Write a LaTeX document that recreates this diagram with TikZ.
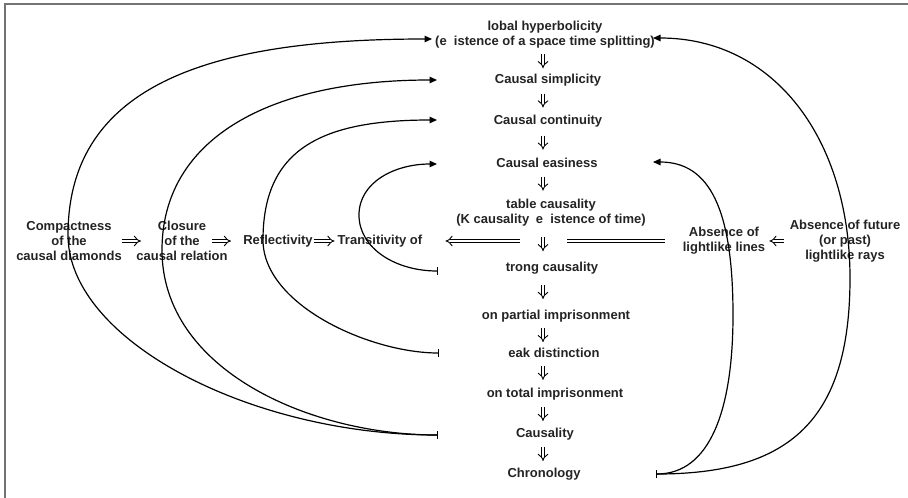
\documentclass[tikz,border=0pt]{standalone}
\usepackage{fontspec}
\setmainfont{Liberation Sans}
\usetikzlibrary{arrows.meta,calc}
\definecolor{ink}{RGB}{35,35,35}
\definecolor{framegray}{RGB}{115,115,115}

\begin{document}
\begin{tikzpicture}[x=1pt,y=-1pt,
  lbl/.style={font=\fontsize{13}{15}\selectfont\bfseries,text=ink,align=center,inner sep=1pt},
  imp/.style={double,double distance=2.8pt,line width=0.9pt,-{Implies}},
  dbl/.style={double,double distance=2.8pt,line width=0.9pt},
  curv/.style={line width=1.2pt,{Bar[width=8pt]}-{Triangle[length=7.5pt,width=6.5pt]}}]
  \useasboundingbox (0,0) rectangle (908,498);
  % frame (only left and top edges show)
  \draw[framegray,line width=1.5pt] (5,498) -- (5,4) -- (908,4);
  % ---- central ladder ----
  \node[lbl] (gh) at (545,35) {lobal hyperbolicity\\(e\hphantom{x}istence of a space time splitting)};
  \node[lbl] (csim) at (548,80) {Causal simplicity};
  \node[lbl] (ccont) at (548,121) {Causal continuity};
  \node[lbl] (ceas) at (547,163) {Causal easiness};
  \node[lbl] (stab) at (551,213) {table causality\\(K causality\hspace{3pt} e\hphantom{x}istence of time)};
  \node[lbl] (strong) at (552,268) {trong causality};
  \node[lbl] (npi) at (556,316) {on partial imprisonment};
  \node[lbl] (wd) at (554,353) {eak distinction};
  \node[lbl] (nti) at (555,394) {on total imprisonment};
  \node[lbl] (caus) at (545,434) {Causality};
  \node[lbl] (chron) at (544,474) {Chronology};
  \coordinate (col) at (543,0);
  \foreach \a/\b in {gh/csim,csim/ccont,ccont/ceas,ceas/stab,stab/strong,
                     strong/npi,npi/wd,wd/nti,nti/caus,caus/chron} {
    \path (\a.south) -- (\b.north) coordinate[midway] (m);
    \draw[imp] (m -| col) ++(0,-7) -- ++(0,14);
  }
  % ---- side conditions, left and right ----
  \node[lbl] (comp) at (69,241) {Compactness\\of the\\causal diamonds};
  \node[lbl] (clos) at (182,241) {Closure\\of the\\causal relation};
  \node[lbl] (refl) at (278,241) {Reflectivity};
  \node[lbl] (trans) at (380,241) {Transitivity of};
  \node[lbl] (absl) at (724,241) {Absence of\\lightlike lines};
  \node[lbl] (absf) at (845,241) {Absence of future\\(or past)\\lightlike rays};
  \draw[imp,shorten <=53pt,shorten >=41pt] (comp.center) -- (clos.center);
  \draw[imp,shorten <=30pt,shorten >=47pt] (clos.center) -- (refl.center);
  \draw[imp,shorten >=2pt] (refl.east) -- (trans.west);
  \coordinate (sl) at (520,241);
  \coordinate (sr) at (567,241);
  \draw[imp,shorten >=22pt] (sl) -- (trans.east);
  \draw[dbl,shorten <=17pt] (absl.west) -- (sr);
  \draw[imp,shorten <=5pt,shorten >=3pt] (absf.west) -- (absl.east);
  % ---- loops: bar at the weaker property, tip at the stronger one ----
  \coordinate (aGH) at (432,39);
  \coordinate (aCS) at (437,80);
  \coordinate (aCC) at (437,120);
  \coordinate (aCE) at (437,164);
  \coordinate (bST) at (438,271);
  \coordinate (bWD) at (439,353);
  \coordinate (bCA) at (438,435);
  \coordinate (aGHr) at (653,38);
  \coordinate (aCEr) at (653,162);
  \coordinate (bCH) at (656,474);
  \draw[curv] (bCA) .. controls (250,435) and (68,340) .. (68,235)
              .. controls (68,80) and (220,39) .. (aGH);
  \draw[curv] (bCA) .. controls (310,435) and (162,370) .. (162,250)
              .. controls (162,140) and (267,80) .. (aCS);
  \draw[curv] (bWD) .. controls (370,353) and (263,305) .. (263,240)
              .. controls (263,150) and (320,120) .. (aCC);
  \draw[curv] (bST) .. controls (395,271) and (359,248) .. (359,215)
              .. controls (359,182) and (395,164) .. (aCE);
  \draw[curv] (bCH) .. controls (790,474) and (850,420) .. (850,278)
              .. controls (850,140) and (775,38) .. (aGHr);
  \draw[curv] (bCH) .. controls (710,474) and (733,410) .. (733,315)
              .. controls (733,210) and (710,162) .. (aCEr);
\end{tikzpicture}
\end{document}
